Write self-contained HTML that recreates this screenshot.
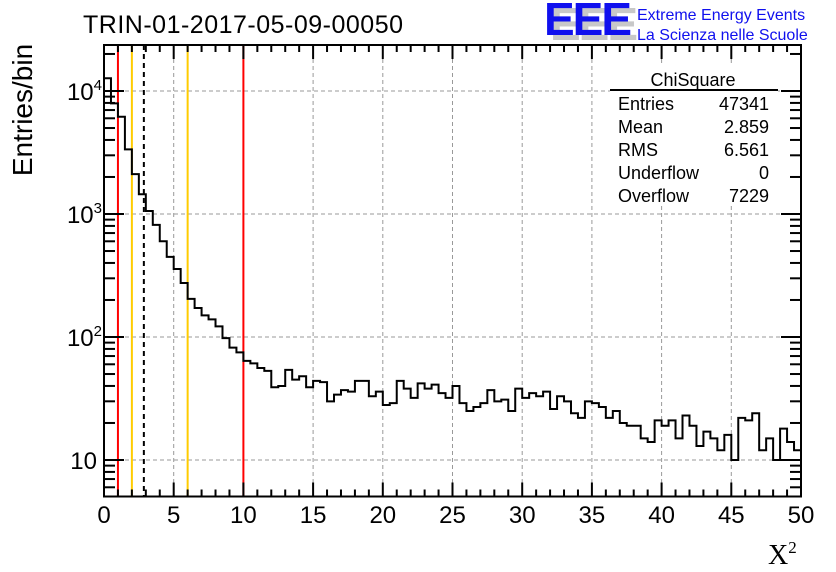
<!DOCTYPE html>
<html><head><meta charset="utf-8"><style>
body{margin:0;background:#fff;}
svg{display:block;font-family:"Liberation Sans",Arial,sans-serif;}
</style></head><body>
<svg id="chart" width="836" height="572" viewBox="0 0 836 572" xmlns="http://www.w3.org/2000/svg">
<rect width="836" height="572" fill="#fff"/>
<g id="grid"></g>
<g id="vlines"></g>
<path id="hist" fill="none" stroke="#000" stroke-width="2"/>
<g id="axes"></g>
<text x="243" y="33" font-size="25" text-anchor="middle" textLength="320">TRIN-01-2017-05-09-00050</text>
<text transform="translate(32,110) rotate(-90)" font-size="28" text-anchor="middle">Entries/bin</text>
<text x="768" y="564" font-size="28" font-family="'Liberation Serif',serif">X<tspan font-size="17" dy="-11">2</tspan></text>
<g>
<text x="550" y="40" font-size="46" font-weight="bold" fill="#c8c8c8" letter-spacing="-2">EEE</text>
<text x="544" y="35" font-size="46" font-weight="bold" fill="#1010ee" letter-spacing="-2">EEE</text>
<text x="637" y="20" font-size="16" fill="#1010ee">Extreme Energy Events</text>
<text x="637" y="40" font-size="16" fill="#1010ee">La Scienza nelle Scuole</text>
</g>
<g font-size="18">
<rect x="610" y="66" width="168" height="140" fill="#fff"/>
<text x="693" y="86" text-anchor="middle">ChiSquare</text>
<line x1="610" y1="90" x2="778" y2="90" stroke="#000" stroke-width="2"/>
<text x="618" y="110">Entries</text><text x="769" y="110" text-anchor="end">47341</text>
<text x="618" y="133">Mean</text><text x="769" y="133" text-anchor="end">2.859</text>
<text x="618" y="156">RMS</text><text x="769" y="156" text-anchor="end">6.561</text>
<text x="618" y="179">Underflow</text><text x="769" y="179" text-anchor="end">0</text>
<text x="618" y="202">Overflow</text><text x="769" y="202" text-anchor="end">7229</text>
</g>
</svg>
<script>
const binEdgesStart = 0;
const binWidth = 0.5;
const counts = [12690,7940,6175,3351,2108,1449,1059,815,600,448,357,275,204,172,150,139,122,98,82,75,
64,61,56,53,39,40,54,45,48,39,44,43,30,34,37,36,44,44,33,36,28,29,44,38,32,42,38,41,35,32,
40,29,25,27,29,37,30,31,25,38,32,35,33,36,26,33,30,24,22,30,29,27,22,25,20,19,19,15,14,21,
19,21,15,23,19,13,17,15,12,16,10,22,21,24,12,15,10,18,14,12];
const xTicks = [0,5,10,15,20,25,30,35,40,45,50];
const yTicks = [10,100,1000,10000];
const yTickLabels = ["10","10<tspan font-size='15' dy='-10'>2</tspan>","10<tspan font-size='15' dy='-10'>3</tspan>","10<tspan font-size='15' dy='-10'>4</tspan>"];
const cutValues = [1,2,6,10];
const cutColors = ["#ff0000","#ffcc00","#ffcc00","#ff0000"];
const meanValue = 2.859;

const X0=104,X1=801,Y0=496.5,Y1=45;
const xs=v=>X0+(v-0)/50*(X1-X0);
const ys=v=>91+(4-Math.log10(v))*123;
const NS="http://www.w3.org/2000/svg";
function mk(t,a,p){const e=document.createElementNS(NS,t);for(const k in a)e.setAttribute(k,a[k]);p.appendChild(e);return e;}
const grid=document.getElementById('grid'),axes=document.getElementById('axes'),vl=document.getElementById('vlines');
xTicks.forEach(t=>{if(t>0&&t<50){const l=mk('line',{x1:xs(t),x2:xs(t),y1:Y1,y2:Y0,stroke:'#999','stroke-dasharray':'4,3','stroke-width':1},grid);

}});
yTicks.forEach(t=>{const l=mk('line',{x1:X0,x2:X1,y1:ys(t),y2:ys(t),stroke:'#999','stroke-dasharray':'4,3','stroke-width':1},grid);

});
let d='M'+xs(binEdgesStart)+','+Y0;
counts.forEach((c,i)=>{const xa=xs(binEdgesStart+i*binWidth),xb=xs(binEdgesStart+(i+1)*binWidth);const y=Math.min(Y0,ys(c));d+=' L'+xa+','+y+' L'+xb+','+y;});
d+=' L'+xs(50)+','+Y0;
document.getElementById('hist').setAttribute('d',d);
cutValues.forEach((v,i)=>{const l=mk('line',{x1:xs(v),x2:xs(v),y1:Y1,y2:Y0,stroke:cutColors[i],'stroke-width':2},vl);

});
const ml=mk('line',{x1:xs(meanValue),x2:xs(meanValue),y1:Y1,y2:Y0,stroke:'#000','stroke-width':2,'stroke-dasharray':'5,4'},vl);


const fr=mk('rect',{x:X0,y:Y1,width:X1-X0,height:Y0-Y1,fill:'none',stroke:'#000','stroke-width':2},axes);


for(let v=0;v<=50;v++){const L=v%5===0?14:7;
mk('line',{x1:xs(v),x2:xs(v),y1:Y0,y2:Y0-L,stroke:'#000','stroke-width':2},axes);
mk('line',{x1:xs(v),x2:xs(v),y1:Y1,y2:Y1+L,stroke:'#000','stroke-width':2},axes);}
xTicks.forEach(t=>{const tx=mk('text',{x:xs(t),y:523,'font-size':24,'text-anchor':'middle'},axes);tx.textContent=t;

});
for(let dec=0;dec<=4;dec++){for(let m=1;m<=9;m++){const v=m*Math.pow(10,dec);const y=ys(v);if(y>Y0||y<Y1)continue;const L=m===1?20:11;
mk('line',{x1:X0,x2:X0+L,y1:y,y2:y,stroke:'#000','stroke-width':2},axes);
mk('line',{x1:X1,x2:X1-L,y1:y,y2:y,stroke:'#000','stroke-width':2},axes);}}
yTicks.forEach((t,i)=>{const tx=mk('text',{x:97,y:ys(t)+9,'font-size':24,'text-anchor':'end'},axes);tx.innerHTML=yTickLabels[i];

});
document.querySelectorAll('#axes text').forEach(t=>{if(t.querySelector('tspan')){t.setAttribute('x',102);}});
</script>
</body></html>
